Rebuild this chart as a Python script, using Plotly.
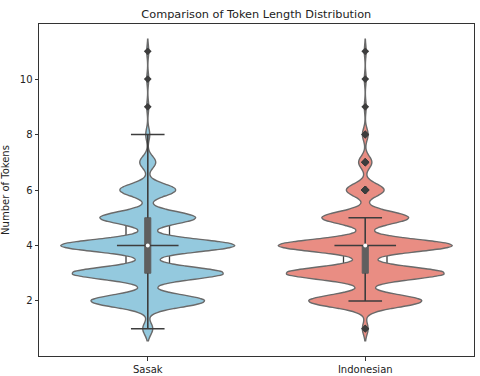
import numpy as np
import plotly.graph_objects as go

# token lengths and (estimated) counts per category
token_lengths = [1, 2, 3, 4, 5, 6, 7, 8, 9, 10, 11]
sasak_counts = [5, 57, 76, 87, 48, 28, 8, 2, 1, 1, 1]
indonesian_counts = [3, 60, 84, 92, 46, 20, 7, 3, 1, 1, 1]

categories = ["Sasak", "Indonesian"]
fill_colors = ["#94c9de", "#e98d83"]

samples = [
    np.repeat(token_lengths, sasak_counts),
    np.repeat(token_lengths, indonesian_counts),
]

fig = go.Figure()
dark = "#3d3d3d"

for i, (cat, data, col) in enumerate(zip(categories, samples, fill_colors)):
    q1, med, q3 = np.percentile(data, [25, 50, 75])
    iqr = q3 - q1
    lo = data[data >= q1 - 1.5 * iqr].min()
    hi = data[data <= q3 + 1.5 * iqr].max()

    # boxplot body sits behind the violin
    fig.add_shape(type="rect", xref="x", yref="y", layer="below",
                  x0=i - 0.1, x1=i + 0.1, y0=q1, y1=q3,
                  line=dict(color=dark, width=1.3), fillcolor="rgba(0,0,0,0)")

    fig.add_trace(go.Violin(
        x=[cat] * len(data), y=data, name=cat,
        width=0.8, bandwidth=0.22, spanmode="soft",
        fillcolor=col, opacity=1,
        line=dict(color="#6a6a6a", width=1.4),
        box=dict(visible=True, width=0.035, fillcolor="#5f5f5f",
                 line=dict(color="#5f5f5f", width=1)),
        meanline=dict(visible=False),
        points="outliers", pointpos=0, jitter=0,
        marker=dict(symbol="diamond", size=6, color=dark),
        hoverinfo="skip", showlegend=False,
    ))

    # whiskers of the overlaid boxplot
    fig.add_trace(go.Scatter(
        x=[cat, cat, None, cat, cat], y=[q3, hi, None, q1, lo],
        mode="lines", line=dict(color=dark, width=1.5),
        showlegend=False, hoverinfo="skip"))
    # caps
    fig.add_trace(go.Scatter(
        x=[cat, cat], y=[lo, hi], mode="markers",
        marker=dict(symbol="line-ew", size=24, line=dict(color=dark, width=1.5)),
        showlegend=False, hoverinfo="skip"))
    # median line
    fig.add_trace(go.Scatter(
        x=[cat], y=[med], mode="markers",
        marker=dict(symbol="line-ew", size=44, line=dict(color=dark, width=1.5)),
        showlegend=False, hoverinfo="skip"))
    # white median dot
    fig.add_trace(go.Scatter(
        x=[cat], y=[med], mode="markers",
        marker=dict(symbol="circle", size=4, color="white"),
        showlegend=False, hoverinfo="skip"))

axis_style = dict(showline=True, mirror=True, linecolor="#333333", linewidth=1,
                  showgrid=False, zeroline=False, ticks="outside", ticklen=3.5,
                  tickcolor="#333333", tickfont=dict(size=10, color="#222222"),
                  automargin=False)

fig.update_layout(
    width=480, height=376,
    margin=dict(l=39, r=6, t=24, b=20),
    paper_bgcolor="white", plot_bgcolor="white",
    font=dict(family="DejaVu Sans", color="#222222"),
    title=dict(text="Comparison of Token Length Distribution", x=0.534, xanchor="center",
               y=0.963, yanchor="middle", font=dict(size=11.3)),
    violinmode="overlay",
    xaxis=dict(axis_style, range=[-0.5, 1.5], categoryorder="array", categoryarray=categories),
    yaxis=dict(axis_style, range=[0.016, 11.984], tickvals=[2, 4, 6, 8, 10],
               title=dict(text="Number of Tokens", font=dict(size=10), standoff=8)),
)

# drop the default page margin so the figure sits at the window's corner
fig.write_html("out.html", config={"displayModeBar": False},
               post_script="document.body.style.margin='0';")
